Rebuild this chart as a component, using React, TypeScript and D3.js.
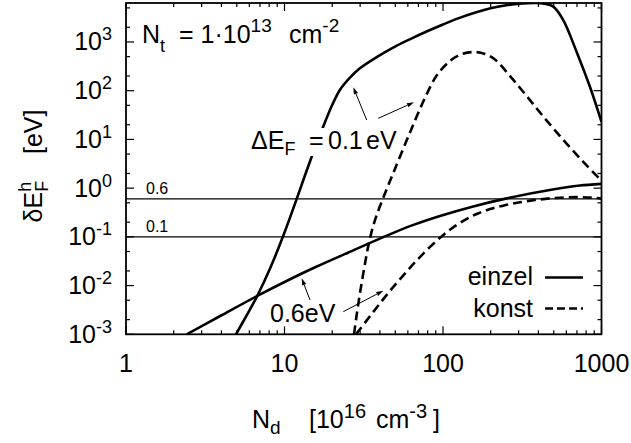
import React from "react";
import * as d3 from "d3";

// ---- data ----
const einzel01X = [4.94, 5.75, 6.73, 8.13, 9.82, 11.94, 13.49, 14.86, 16.22, 17.58, 19.95, 22.39, 25.88, 29.92, 38.19, 50.12, 63.1, 79.43, 100, 125.9, 158.5, 199.5, 251.2, 316.2, 380.2, 436.5, 494.3, 571.5, 699.8, 845.3, 1000];
const einzel01Y = [0.001, 0.0024, 0.00612, 0.0229, 0.105, 0.603, 1.86, 4.47, 9.55, 18.6, 50.1, 104.7, 186.2, 288.4, 489.8, 812.8, 1175, 1660, 2291, 3090, 3981, 4898, 5689, 6166, 6310, 6095, 5370, 2884, 602.6, 120.2, 22.9];

const konst01X = [27.45, 28.31, 29.21, 30.2, 31.41, 32.73, 33.81, 35.89, 38.19, 41.98, 48.53, 58.48, 67.61, 78.16, 91.62, 110.7, 130.0, 155.2, 184.1, 212.8, 264.9, 337.3, 429.5, 574.1, 767.4, 1000];
const konst01Y = [0.001, 0.00209, 0.00417, 0.00832, 0.0178, 0.038, 0.0661, 0.148, 0.282, 0.631, 2.04, 8.91, 27.5, 79.4, 208.9, 407.4, 555.9, 622.3, 568.9, 436.5, 199.5, 77.6, 29.5, 9.77, 3.47, 1.41];

const einzel06X = [2.415, 3.98, 6.73, 10.84, 15.85, 25.12, 41.69, 63.1, 95.72, 155.2, 252.4, 409.3, 602.6, 731.1, 1000];
const einzel06Y = [0.001, 0.00243, 0.00612, 0.0135, 0.0243, 0.0473, 0.0977, 0.17, 0.269, 0.422, 0.617, 0.841, 1.047, 1.135, 1.225];

const konst06X = [28.25, 33.11, 38.19, 44.16, 51.05, 59.02, 68.23, 83.18, 100.5, 118.9, 141.3, 166.0, 198.2, 245.5, 306.2, 380.2, 473.2, 588.8, 731.1, 871.0, 1000];
const konst06Y = [0.001, 0.00195, 0.00355, 0.00646, 0.01135, 0.0195, 0.0327, 0.0631, 0.1096, 0.166, 0.234, 0.302, 0.372, 0.447, 0.513, 0.569, 0.617, 0.646, 0.653, 0.638, 0.61];

const xTicks = [1, 10, 100, 1000];
const xTickLabels = ["1", "10", "100", "1000"];
const yTickExps = [-3, -2, -1, 0, 1, 2, 3];
const hLines = [0.6, 0.1];
const hLineLabels = ["0.6", "0.1"];
const legendLabels = ["einzel", "konst"];

const W = 631;
const H = 443;
const L = 126, R = 601.5, T = 3, B = 334.3;
const FONT = "'Liberation Sans', Arial, Helvetica, sans-serif";
const PRE: React.CSSProperties = { whiteSpace: "pre" };

export default function App() {
  const x = d3.scaleLog().domain([1, 1000]).range([L, R]);
  const y = d3.scaleLog().domain([1e-3, Math.pow(10, 3.8)]).range([B, T]);

  const line = d3
    .line<[number, number]>()
    .x((d) => x(d[0]))
    .y((d) => y(d[1]))
    .curve(d3.curveCatmullRom.alpha(0.5));

  const mk = (xs: number[], ys: number[]) => line(xs.map((v, i) => [v, ys[i]] as [number, number])) || "";

  const xMinor: number[] = [];
  for (let dec = 1; dec < 1000; dec *= 10) for (let k = 2; k <= 9; k++) xMinor.push(dec * k);
  const yMinor: number[] = [];
  for (let e = -3; e < 4; e++) for (const k of [2, 5]) {
    const v = k * Math.pow(10, e);
    if (v < Math.pow(10, 3.8)) yMinor.push(v);
  }
  const yMajor = yTickExps.map((e) => Math.pow(10, e));

  const arrow = (x1: number, y1: number, x2: number, y2: number, key: string) => {
    const ang = Math.atan2(y2 - y1, x2 - x1);
    const len = 7, wid = 2.2;
    const bx = x2 - len * Math.cos(ang), by = y2 - len * Math.sin(ang);
    const px = -Math.sin(ang) * wid, py = Math.cos(ang) * wid;
    return (
      <g key={key}>
        <line x1={x1} y1={y1} x2={bx} y2={by} stroke="#000" strokeWidth={1} />
        <path d={`M${x2},${y2}L${bx + px},${by + py}L${bx - px},${by - py}Z`} fill="#000" />
      </g>
    );
  };

  return (
    <svg width={W} height={H} style={{ position: "absolute", left: 0, top: 0, background: "#fff" }} fontFamily={FONT}>
      <defs>
        <clipPath id="plotClip">
          <rect x={L} y={T} width={R - L} height={B - T} />
        </clipPath>
      </defs>
      <rect x={0} y={0} width={W} height={H} fill="#fff" />

      {hLines.map((v, i) => (
        <g key={"h" + i}>
          <line x1={L} x2={R} y1={y(v)} y2={y(v)} stroke="#000" strokeWidth={1.3} />
          <text x={146} y={y(v) - 4.5} fontSize={16}>{hLineLabels[i]}</text>
        </g>
      ))}

      <g clipPath="url(#plotClip)" fill="none" stroke="#000" strokeWidth={2.6}>
        <path d={mk(einzel01X, einzel01Y)} />
        <path d={mk(einzel06X, einzel06Y)} />
        <path d={mk(konst01X, konst01Y)} strokeDasharray="9,5" />
        <path d={mk(konst06X, konst06Y)} strokeDasharray="9,5" />
      </g>

      <g stroke="#000" strokeWidth={1.2}>
        {xTicks.map((v, i) => (
          <g key={"xt" + i}>
            <line x1={x(v)} x2={x(v)} y1={B} y2={B - 8} />
            <line x1={x(v)} x2={x(v)} y1={T} y2={T + 8} />
          </g>
        ))}
        {xMinor.map((v, i) => (
          <g key={"xm" + i}>
            <line x1={x(v)} x2={x(v)} y1={B} y2={B - 4} />
            <line x1={x(v)} x2={x(v)} y1={T} y2={T + 4} />
          </g>
        ))}
        {yMajor.map((v, i) => (
          <g key={"yt" + i}>
            <line x1={L} x2={L + 8} y1={y(v)} y2={y(v)} />
            <line x1={R} x2={R - 8} y1={y(v)} y2={y(v)} />
          </g>
        ))}
        {yMinor.map((v, i) => (
          <g key={"ym" + i}>
            <line x1={L} x2={L + 4} y1={y(v)} y2={y(v)} />
            <line x1={R} x2={R - 4} y1={y(v)} y2={y(v)} />
          </g>
        ))}
      </g>

      <rect x={L} y={T} width={R - L} height={B - T} fill="none" stroke="#000" strokeWidth={1.8} />

      {xTicks.map((v, i) => (
        <text key={"xl" + i} x={x(v)} y={372} fontSize={25} textAnchor="middle">{xTickLabels[i]}</text>
      ))}

      {yTickExps.map((e, i) => (
        <text key={"yl" + i} x={112} y={y(Math.pow(10, e)) + 8.5} fontSize={25} textAnchor="end">
          10<tspan dy={-10} fontSize={18}>{String(e)}</tspan>
        </text>
      ))}

      <text x={252} y={428} fontSize={25} style={PRE}>
        N<tspan dy={6} fontSize={19}>d</tspan>
        <tspan dy={-6} x={309}>[10</tspan>
        <tspan dy={-10} fontSize={20}>16</tspan>
        <tspan dy={10} x={376}>cm</tspan>
        <tspan dy={-10} fontSize={20}>-3</tspan>
        <tspan dy={10} x={433}>]</tspan>
      </text>
      <text transform="translate(42,166) rotate(-90)" fontSize={25} textAnchor="middle" style={PRE}>
        δE<tspan dy={6} fontSize={18}>F</tspan>
        <tspan dx={-11} dy={-17} fontSize={18}>h</tspan>
        <tspan dy={11}>{"    [eV]"}</tspan>
      </text>

      <text x={142} y={43} fontSize={25} style={PRE}>
        N<tspan dy={9} fontSize={18}>t</tspan>
        <tspan dy={-9}>{"  = 1·10"}</tspan>
        <tspan dy={-11} fontSize={19}>13</tspan>
        <tspan dy={11} x={289}>cm</tspan>
        <tspan dy={-11} fontSize={19}>-2</tspan>
      </text>

      <rect x={304} y={128} width={94} height={28} fill="#fff" />
      <text x={251} y={149} fontSize={25} style={PRE}>
        ΔE<tspan dy={6} fontSize={18}>F</tspan>
        <tspan dy={-6} x={309}>=</tspan>
        <tspan x={328}>0.1</tspan>
        <tspan x={366}>eV</tspan>
      </text>
      <text x={270} y={322} fontSize={25}>0.6eV</text>

      {arrow(366.7, 120, 353.3, 87.3, "a1")}
      {arrow(378.3, 118.3, 414, 102.3, "a2")}
      {arrow(310, 300, 301.7, 278.3, "a3")}
      {arrow(343.3, 311.7, 383.3, 290.7, "a4")}

      <text x={533} y={285} fontSize={25} textAnchor="end">{legendLabels[0]}</text>
      <line x1={545} x2={583} y1={277.5} y2={277.5} stroke="#000" strokeWidth={2.6} />
      <text x={533} y={316.5} fontSize={25} textAnchor="end">{legendLabels[1]}</text>
      <line x1={545} x2={583} y1={308.5} y2={308.5} stroke="#000" strokeWidth={2.6} strokeDasharray="8,4" />
    </svg>
  );
}
